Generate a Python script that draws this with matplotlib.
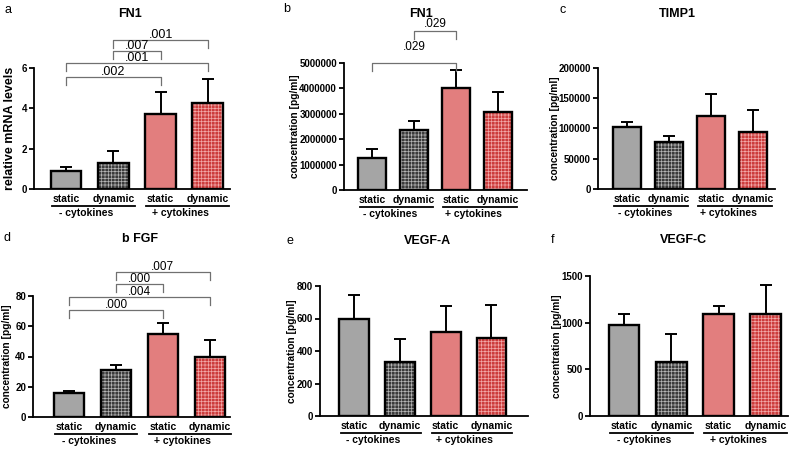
import matplotlib
matplotlib.use("Agg")
import matplotlib.pyplot as plt
import matplotlib.transforms as mtransforms
from matplotlib.ticker import FuncFormatter

plt.rcParams["font.family"] = ["Liberation Sans", "DejaVu Sans"]
plt.rcParams["hatch.linewidth"] = 0.5

# data
conditions = ["static", "dynamic", "static", "dynamic"]
cytokine_groups = ["- cytokines", "+ cytokines"]

fn1_mrna = [0.91, 1.27, 3.70, 4.28]
fn1_mrna_err = [0.20, 0.63, 1.09, 1.17]
fn1_conc = [1270000, 2360000, 4000000, 3060000]
fn1_conc_err = [340000, 370000, 720000, 810000]
timp1 = [103000, 77200, 120700, 94200]
timp1_err = [7000, 10400, 35800, 36400]
bfgf = [16.0, 30.8, 55.0, 40.0]
bfgf_err = [1.1, 3.7, 7.0, 11.0]
vegfa = [599, 332, 517, 482]
vegfa_err = [144, 144, 160, 199]
vegfc = [980, 581, 1091, 1091]
vegfc_err = [118, 300, 89, 310]

# pairwise comparisons: (bar i, bar j, p value)
fn1_mrna_sig = [(0, 2, ".002"), (0, 3, ".001"), (1, 2, ".007"), (1, 3, ".001")]
fn1_conc_sig = [(0, 2, ".029"), (1, 2, ".029")]
bfgf_sig = [(0, 2, ".000"), (0, 3, ".004"), (1, 2, ".000"), (1, 3, ".007")]

FACE = ["#a5a5a5", "#3a3a3a", "#e27e7e", "#cc3c3c"]
HATCH = [None, "#b4b4b4", None, "#f2a8a8"]
W, H = 800, 450


def px_rect(left, right, bottom, top):
    return [left / W, 1 - bottom / H, (right - left) / W, (bottom - top) / H]


def draw_panel(fig, rect, xlim, values, errors, yticks, ylabel, ylabel_x,
               ylabel_size=7.3, sig=None, sig_levels=None, sig_text=None,
               sig_size=8.5):
    ax = fig.add_axes(rect)
    x = list(range(len(values)))
    for i, v in enumerate(values):
        if HATCH[i]:
            ax.bar(i, v, 0.65, color=FACE[i], edgecolor=HATCH[i],
                   hatch="+++++", linewidth=0, zorder=2)
        else:
            ax.bar(i, v, 0.65, color=FACE[i], linewidth=0, zorder=2)
    ax.errorbar(x, values, yerr=[[0] * len(values), errors], fmt="none",
                ecolor="black", elinewidth=1.4, capsize=4.5, capthick=1.4,
                zorder=1)
    ax.bar(x, values, 0.65, facecolor="none", edgecolor="black",
           linewidth=1.7, zorder=3)

    ax.set_xlim(*xlim)
    ax.set_ylim(yticks[0], yticks[-1])
    ax.set_yticks(yticks)
    ax.yaxis.set_major_formatter(FuncFormatter(lambda v, p: f"{v:.0f}"))
    ax.set_xticks(x, conditions)
    ax.tick_params(axis="x", length=0, pad=3.5, labelsize=7.5)
    ax.tick_params(axis="y", length=3.5, width=1.3, pad=1.5, labelsize=7)
    for lab in ax.get_xticklabels() + ax.get_yticklabels():
        lab.set_fontweight("bold")
    for s in ["top", "right"]:
        ax.spines[s].set_visible(False)
    for s in ["left", "bottom"]:
        ax.spines[s].set_linewidth(1.3)
    ax.set_ylabel(ylabel, fontsize=ylabel_size, fontweight="bold",
                  va="center")
    ax.yaxis.set_label_coords(ylabel_x, 0.5)

    xt = ax.get_xaxis_transform()
    under = mtransforms.offset_copy(xt, fig=fig, y=-17, units="dots")
    grp = mtransforms.offset_copy(xt, fig=fig, y=-24, units="dots")
    for (a, b), name, cx in zip([(-0.3, 1.45), (1.7, 3.45)],
                                cytokine_groups, [0.42, 2.42]):
        ax.plot([a, b], [0, 0], color="black", lw=1.3, transform=under,
                clip_on=False)
        ax.text(cx, 0, name, transform=grp, ha="center", va="center",
                fontsize=7.5, fontweight="bold")

    if sig:
        for (i, j, p), lvl, tl in zip(sig, sig_levels, sig_text):
            ax.plot([i, i, j, j], [lvl - 0.065, lvl, lvl, lvl - 0.065],
                    color="#707070", lw=0.9, transform=xt, clip_on=False)
            ax.text((i + j) / 2, tl, p, transform=xt, ha="center",
                    va="center", fontsize=sig_size)
    return ax


fig = plt.figure(figsize=(8, 4.5), dpi=100)

draw_panel(fig, px_rect(34, 230, 189, 68), (-0.68, 3.47), fn1_mrna,
           fn1_mrna_err, [0, 2, 4, 6], "relative mRNA levels", -0.122,
           ylabel_size=9, sig=fn1_mrna_sig,
           sig_levels=[0.926, 1.041, 1.14, 1.231],
           sig_text=[0.967, 1.082, 1.181, 1.272], sig_size=9)
draw_panel(fig, px_rect(344, 527, 190, 63), (-0.67, 3.69), fn1_conc,
           fn1_conc_err, [0, 1000000, 2000000, 3000000, 4000000, 5000000],
           "concentration [pg/ml]", -0.268, sig=fn1_conc_sig,
           sig_levels=[1.0, 1.252], sig_text=[1.126, 1.307])
draw_panel(fig, px_rect(598, 775, 189, 68), (-0.69, 3.52), timp1, timp1_err,
           [0, 50000, 100000, 150000, 200000], "concentration [pg/ml]",
           -0.243)
draw_panel(fig, px_rect(33, 230, 417, 296), (-0.77, 3.43), bfgf, bfgf_err,
           [0, 20, 40, 60, 80], "concentration [pg/ml]", -0.13,
           sig=bfgf_sig, sig_levels=[0.885, 0.994, 1.096, 1.2],
           sig_text=[0.926, 1.035, 1.14, 1.242])
draw_panel(fig, px_rect(320, 528, 416, 286), (-0.75, 3.8), vegfa, vegfa_err,
           [0, 200, 400, 600, 800], "concentration [pg/ml]", -0.135)
draw_panel(fig, px_rect(590, 788, 416, 276), (-0.72, 3.47), vegfc,
           vegfc_err, [0, 500, 1000, 1500], "concentration [pg/ml]", -0.167)

titles = [("FN1", 130, 14), ("FN1", 421, 14), ("TIMP1", 677, 14),
          ("b FGF", 140, 239), ("VEGF-A", 427, 241), ("VEGF-C", 683, 240)]
letters = [("a", 8, 10), ("b", 287, 9), ("c", 563, 10),
           ("d", 7, 238), ("e", 290, 241), ("f", 553, 240)]
for t, px, py in titles:
    fig.text(px / W, 1 - py / H, t, ha="center", va="center", fontsize=9,
             fontweight="bold")
for t, px, py in letters:
    fig.text(px / W, 1 - py / H, t, ha="center", va="center", fontsize=9)

fig.savefig("out.png", dpi=100)
